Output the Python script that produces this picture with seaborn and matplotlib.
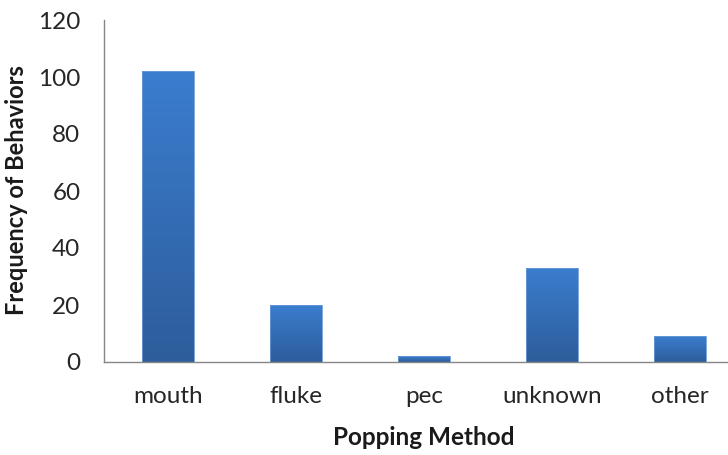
import numpy as np
import pandas as pd
import matplotlib
matplotlib.use("Agg")
import matplotlib.pyplot as plt
import seaborn as sns
from matplotlib.colors import LinearSegmentedColormap

# Popping method counts
methods = ["mouth", "fluke", "pec", "unknown", "other"]
counts = [102, 20, 2, 33, 9]
y_ticks = [0, 20, 40, 60, 80, 100, 120]

df = pd.DataFrame({"method": methods, "count": counts})

sns.set_theme(style="white")
plt.rcParams["font.family"] = ["Lato", "DejaVu Sans"]

fig = plt.figure(figsize=(7.28, 4.55), dpi=100)
ax = fig.add_axes([104 / 728, 93 / 455, 640 / 728, 342 / 455])

sns.barplot(data=df, x="method", y="count", color="#3a7bcc", width=0.4,
            saturation=1, ax=ax, zorder=2)

# vertical gradient fill for each bar, lighter on top
grad = LinearSegmentedColormap.from_list("bar", ["#2d5d9b", "#3b7dcf"])
gimg = np.linspace(0, 1, 256).reshape(-1, 1)
for patch in list(ax.patches):
    x0, y0 = patch.get_x(), patch.get_y()
    w, h = patch.get_width(), patch.get_height()
    patch.set_facecolor("none")
    patch.set_edgecolor("#6a9ad8")
    patch.set_linewidth(0.6)
    im = ax.imshow(gimg, cmap=grad, origin="lower", aspect="auto",
                   extent=(x0, x0 + w, y0, y0 + h), zorder=1.9)
    im.set_clip_path(patch)

ax.set_xlim(-0.5, 4.5)
ax.set_ylim(0, 120)
ax.set_yticks(y_ticks)
ax.set_yticklabels([str(t) for t in y_ticks])

for side in ("top", "right"):
    ax.spines[side].set_visible(False)
for side in ("left", "bottom"):
    ax.spines[side].set_color("#868686")
    ax.spines[side].set_linewidth(1.0)

ax.tick_params(axis="both", length=0, labelsize=17.5, colors="#262626")
ax.tick_params(axis="y", pad=17)
ax.tick_params(axis="x", pad=17)

ax.set_xlabel("Popping Method", fontsize=17.5, fontweight="bold",
              color="#1a1a1a", labelpad=14)
ax.set_ylabel("Frequency of Behaviors", fontsize=17, fontweight="bold",
              color="#1a1a1a", labelpad=12)
ax.yaxis.set_label_coords(-76 / 640, (362 - 190) / 342)

fig.savefig("out.png", dpi=100)
